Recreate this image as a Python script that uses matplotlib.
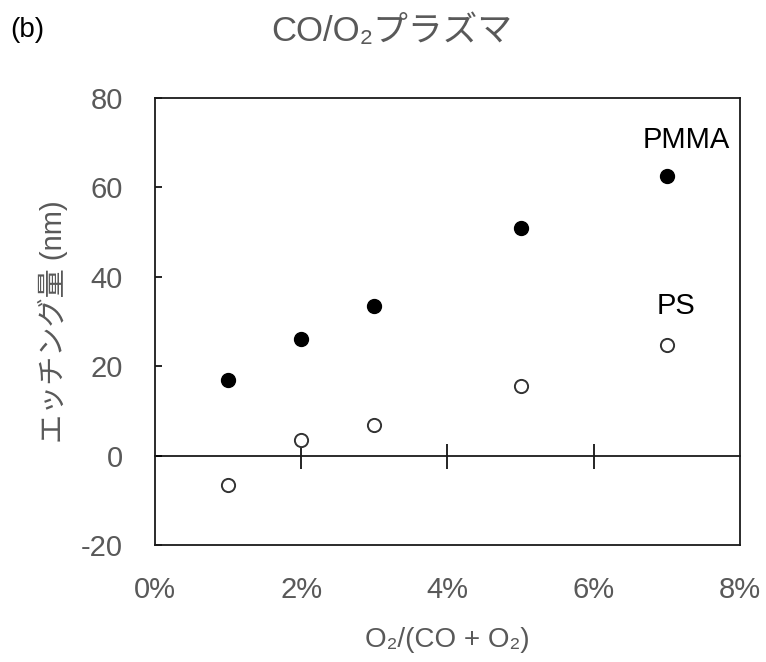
import matplotlib
matplotlib.use("Agg")
import matplotlib.pyplot as plt
from matplotlib.ticker import FuncFormatter

plt.rcParams['font.family'] = ['Liberation Sans', 'Noto Sans CJK JP', 'DejaVu Sans']
plt.rcParams['axes.unicode_minus'] = False

# O2 fraction (%) and etched depth (nm)
o2_ratio = [1, 2, 3, 5, 7]
pmma_etch = [17.0, 26.0, 33.5, 51.0, 62.5]
ps_etch = [-6.5, 3.5, 6.8, 15.5, 24.8]

x_ticks = [0, 2, 4, 6, 8]
y_ticks = [-20, 0, 20, 40, 60, 80]

label_gray = '#595959'

fig = plt.figure(figsize=(7.66, 6.62), dpi=100)
ax = fig.add_axes([0.2024, 0.1767, 0.7636, 0.6753])

ax.plot(o2_ratio, pmma_etch, 'o', color='black', markersize=10, zorder=4)
ax.plot(o2_ratio, ps_etch, 'o', markerfacecolor='white', markeredgecolor='#333333',
        markeredgewidth=1.4, markersize=9.5, zorder=4)

ax.set_xlim(0, 8)
ax.set_ylim(-20, 80)

for s in ax.spines.values():
    s.set_linewidth(1.3)
    s.set_color('#1a1a1a')

# y axis: inward ticks on the left frame
ax.set_yticks(y_ticks)
ax.tick_params(axis='y', direction='in', length=5, width=1.2, pad=23,
               labelsize=21, labelcolor=label_gray, right=False)

# x axis labels along the bottom frame, no tick marks there
ax.set_xticks(x_ticks)
ax.xaxis.set_major_formatter(FuncFormatter(lambda v, p: f"{v:.0f}%"))
ax.tick_params(axis='x', length=0, pad=22, labelsize=21, labelcolor=label_gray)

# zero line carrying the crossing x tick marks
zero_axis = ax.secondary_xaxis(0.2)
zero_axis.set_xticks(x_ticks[1:-1])
zero_axis.tick_params(axis='x', direction='inout', length=18, width=1.2,
                      labelbottom=False)
zero_axis.spines['bottom'].set_linewidth(1.3)
zero_axis.spines['bottom'].set_color('#1a1a1a')

ax.set_xlabel('O₂/(CO + O₂)', fontsize=20, color=label_gray, va='center')
ax.xaxis.set_label_coords(0.5, -0.213)
ax.set_ylabel('エッチング量 (nm)', fontsize=21, color=label_gray, va='center')
ax.yaxis.set_label_coords(-0.174, 0.5)

ax.text(7.27, 70.6, 'PMMA', fontsize=21, color='black', ha='center', va='center')
ax.text(7.13, 33.5, 'PS', fontsize=21, color='black', ha='center', va='center')

fig.text(0.511, 0.952, 'CO/O₂プラズマ', fontsize=25, color=label_gray,
         ha='center', va='center')
fig.text(0.014, 0.955, '(b)', fontsize=20, color='black', ha='left', va='center')

fig.savefig('out.png', dpi=100)
